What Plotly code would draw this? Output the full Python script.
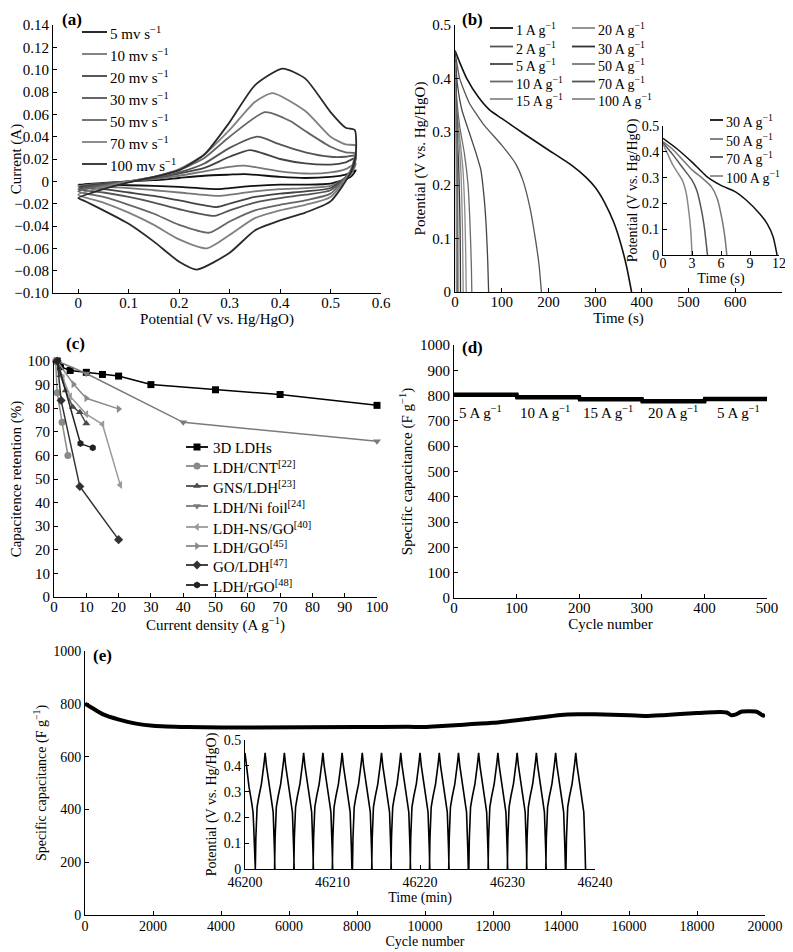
import plotly.graph_objects as go

FONT = "Liberation Serif"
# the page puts the figure 8 px in from the top-left corner, so the figure is that much smaller
OFF = 8
W, H = 793 - OFF, 952 - OFF

# ---------------- (a) cyclic voltammetry ----------------
cv_labels = ["5 mv s<sup>−1</sup>", "10 mv s<sup>−1</sup>", "20 mv s<sup>−1</sup>", "30 mv s<sup>−1</sup>",
             "50 mv s<sup>−1</sup>", "70 mv s<sup>−1</sup>", "100 mv s<sup>−1</sup>"]
cv_colors = ["#111111", "#777777", "#444444", "#555555", "#666666", "#808080", "#2a2a2a"]

cv5_v = [0, .05, .1, .15, .2, .25, .3, .33, .4, .45, .5, .53, .55, .54, .5, .45, .4, .35, .3, .28, .2, .15, .1, .05, 0]
cv5_i = [-.003, -.0015, 0, .001, .003, .005, .006, .0065, .004, .003, .004, .006, .010, .004, -.002, -.003, -.003, -.004, -.006, -.007, -.005, -.004, -.0035, -.003, -.003]
cv10_v = [0, .05, .1, .15, .2, .25, .3, .33, .4, .45, .5, .53, .55, .54, .5, .45, .4, .35, .3, .28, .2, .15, .1, .05, 0]
cv10_i = [-.004, -.002, 0, .002, .005, .009, .013, .014, .009, .007, .008, .011, .016, .006, -.004, -.006, -.007, -.009, -.012, -.013, -.010, -.008, -.006, -.005, -.004]
cv20_v = [0, .05, .1, .15, .2, .25, .3, .34, .4, .45, .5, .53, .55, .54, .5, .45, .4, .35, .3, .275, .2, .15, .1, .05, 0]
cv20_i = [-.005, -.002, 0, .003, .007, .012, .022, .028, .020, .016, .015, .017, .021, .008, -.006, -.009, -.011, -.014, -.020, -.023, -.017, -.013, -.010, -.007, -.005]
cv30_v = [0, .05, .1, .15, .2, .25, .3, .355, .4, .45, .5, .53, .55, .54, .5, .45, .4, .35, .3, .27, .2, .15, .1, .05, 0]
cv30_i = [-.007, -.003, 0, .003, .008, .016, .030, .040, .033, .026, .022, .022, .023, .009, -.008, -.012, -.015, -.019, -.026, -.031, -.025, -.019, -.014, -.010, -.007]
cv50_v = [0, .05, .1, .15, .2, .25, .3, .37, .42, .45, .5, .53, .55, .54, .5, .45, .4, .35, .3, .26, .2, .15, .1, .05, 0]
cv50_i = [-.009, -.004, 0, .004, .010, .021, .040, .062, .054, .045, .031, .026, .025, .010, -.011, -.017, -.021, -.026, -.036, -.046, -.039, -.029, -.021, -.014, -.009]
cv70_v = [0, .05, .1, .15, .2, .25, .3, .35, .385, .45, .5, .53, .55, .54, .5, .45, .4, .35, .3, .255, .2, .15, .1, .05, 0]
cv70_i = [-.012, -.005, 0, .004, .011, .024, .046, .071, .079, .063, .040, .033, .032, .010, -.014, -.021, -.026, -.033, -.048, -.060, -.052, -.039, -.028, -.019, -.012]
cv100_v = [0, .05, .1, .15, .2, .25, .3, .35, .405, .45, .5, .53, .548, .55, .54, .5, .45, .4, .35, .3, .235, .2, .15, .1, .05, .01, 0]
cv100_i = [-.015, -.007, -.001, .004, .010, .024, .053, .086, .101, .092, .062, .048, .046, .024, .008, -.018, -.028, -.035, -.044, -.064, -.079, -.072, -.054, -.038, -.026, -.017, -.015]
cv_v = [cv5_v, cv10_v, cv20_v, cv30_v, cv50_v, cv70_v, cv100_v]
cv_i = [cv5_i, cv10_i, cv20_i, cv30_i, cv50_i, cv70_i, cv100_i]

# ---------------- (b) galvanostatic discharge ----------------
gd_labels = ["1 A g<sup>−1</sup>", "2 A g<sup>−1</sup>", "5 A g<sup>−1</sup>", "10 A g<sup>−1</sup>", "15 A g<sup>−1</sup>",
             "20 A g<sup>−1</sup>", "30 A g<sup>−1</sup>", "50 A g<sup>−1</sup>", "70 A g<sup>−1</sup>", "100 A g<sup>−1</sup>"]
gd_colors = ["#111111", "#555555", "#444444", "#6a6a6a", "#8a8a8a", "#8a8a8a", "#333333", "#777777", "#555555", "#888888"]

gd1_t = [0, 10, 25, 50, 75, 100, 150, 200, 250, 280, 300, 320, 340, 355, 368, 378]
gd1_v = [0.452, 0.43, 0.40, 0.365, 0.34, 0.325, 0.295, 0.266, 0.237, 0.215, 0.196, 0.168, 0.13, 0.09, 0.045, 0]
gd2_t = [0, 10, 30, 60, 100, 130, 145, 160, 172, 180, 185]
gd2_v = [0.45, 0.40, 0.355, 0.315, 0.275, 0.24, 0.21, 0.16, 0.10, 0.05, 0]
gd5_t = [0, 5, 15, 30, 45, 55, 62, 67, 70, 72]
gd5_v = [0.45, 0.39, 0.34, 0.30, 0.26, 0.23, 0.18, 0.12, 0.06, 0]
gd10_t = [0, 3, 10, 20, 28, 32, 35, 36]
gd10_v = [0.44, 0.37, 0.31, 0.26, 0.20, 0.13, 0.05, 0]
gd15_t = [0, 3, 10, 17, 21, 23, 24]
gd15_v = [0.44, 0.35, 0.29, 0.23, 0.15, 0.07, 0]
gd20_t = [0, 2, 8, 13, 16, 17.5]
gd20_v = [0.44, 0.36, 0.29, 0.22, 0.12, 0]
gd30_t = [0, 1.5, 3, 4.5, 6, 7.5, 8.6, 10, 10.8, 11.4, 11.8]
gd30_v = [0.452, 0.41, 0.36, 0.305, 0.27, 0.245, 0.213, 0.16, 0.12, 0.07, 0]
gd50_t = [0, 1, 2, 3, 4, 5, 5.6, 6.1, 6.4, 6.6]
gd50_v = [0.44, 0.41, 0.37, 0.33, 0.30, 0.265, 0.22, 0.14, 0.07, 0]
gd70_t = [0, 1, 2, 3, 3.5, 4, 4.3, 4.6]
gd70_v = [0.435, 0.39, 0.34, 0.29, 0.25, 0.17, 0.10, 0]
gd100_t = [0, 0.5, 1, 1.5, 2, 2.4, 2.7, 2.9, 3.0]
gd100_v = [0.43, 0.39, 0.35, 0.32, 0.29, 0.24, 0.16, 0.08, 0]
gd_t = [gd1_t, gd2_t, gd5_t, gd10_t, gd15_t, gd20_t, gd30_t, gd50_t, gd70_t, gd100_t]
gd_v = [gd1_v, gd2_v, gd5_v, gd10_v, gd15_v, gd20_v, gd30_v, gd50_v, gd70_v, gd100_v]
inset_colors = ["#111111", "#777777", "#555555", "#888888"]

# ---------------- (c) rate capability comparison ----------------
rc_names = ["3D LDHs", "LDH/CNT<sup>[22]</sup>", "GNS/LDH<sup>[23]</sup>", "LDH/Ni foil<sup>[24]</sup>",
            "LDH-NS/GO<sup>[40]</sup>", "LDH/GO<sup>[45]</sup>", "GO/LDH<sup>[47]</sup>", "LDH/rGO<sup>[48]</sup>"]
rc_symbols = ["square", "circle", "triangle-up", "triangle-down", "triangle-left", "triangle-right", "diamond", "hexagon"]
rc_colors = ["#000000", "#8a8a8a", "#4a4a4a", "#7a7a7a", "#9a9a9a", "#8a8a8a", "#333333", "#222222"]
rc_x = [
    [1, 2, 5, 10, 15, 20, 30, 50, 70, 100],
    [0.5, 1, 2.5, 4.3],
    [1, 2, 3.6, 5.8, 8, 10],
    [1, 10, 40, 100],
    [1, 2.7, 5, 10, 15, 20.5],
    [1, 6, 10, 20],
    [1, 2.2, 8, 20],
    [1, 8.2, 12],
]
rc_y = [
    [100, 97.6, 96, 95.2, 94.3, 93.6, 90, 87.8, 85.8, 81.2],
    [100, 86.5, 74, 60],
    [100, 94, 87.5, 80.5, 78.3, 73.5],
    [100, 94.7, 74, 66],
    [100, 93, 85, 77.5, 73.2, 47.5],
    [100, 90.2, 84.2, 79.7],
    [100, 83.3, 46.8, 24.3],
    [100, 65, 63.2],
]

# ---------------- (d) rate cycling ----------------
d_cycle = [0, 100, 101, 200, 201, 300, 301, 400, 401, 500]
d_cap = [803, 803, 793, 793, 786, 786, 778, 778, 787, 787]
d_label_x = [42, 145, 246, 350, 454]
d_labels = ["5 A g<sup>−1</sup>", "10 A g<sup>−1</sup>", "15 A g<sup>−1</sup>", "20 A g<sup>−1</sup>", "5 A g<sup>−1</sup>"]

# ---------------- (e) long cycling ----------------
e_cycle = [0, 200, 500, 1000, 1500, 2000, 3000, 5000, 8000, 9500, 10000, 10500, 11000, 12000, 12500, 13000,
           14000, 14500, 15000, 16000, 16500, 17000, 18000, 18700, 18900, 19000, 19150, 19300, 19750, 19850, 19950, 20000]
e_cap = [800, 785, 762, 740, 725, 717, 712, 710, 712, 713, 712, 716, 720, 728, 735, 742,
         758, 760, 760, 757, 754, 757, 765, 769, 766, 757, 760, 770, 770, 763, 755, 760]

# inset: one charge/discharge profile and the times of the voltage peaks
peak_times = [46200.0, 46202.3, 46204.5, 46206.7, 46208.9, 46211.1, 46213.4, 46215.6, 46217.8,
              46220.0, 46222.2, 46224.4, 46226.7, 46228.9, 46231.1, 46233.3, 46235.5, 46237.8]
charge_dt = [-1.12, -1.06, -1.0, -0.92, -0.72, -0.42, -0.12, 0]
charge_v = [0, 0.12, 0.20, 0.24, 0.28, 0.33, 0.41, 0.45]
discharge_dt = [0.15, 0.45, 0.75, 0.92, 1.0, 1.06, 1.12]
discharge_v = [0.40, 0.32, 0.26, 0.22, 0.16, 0.08, 0]

gcd_t, gcd_v = [], []
for k, tp in enumerate(peak_times):
    if k > 0:
        gcd_t += [tp + d for d in charge_dt]
        gcd_v += charge_v
    else:
        gcd_t.append(tp)
        gcd_v.append(0.45)
    gcd_t += [tp + d for d in discharge_dt]
    gcd_v += discharge_v


def px(x):
    # screen pixel -> paper fraction
    return (x - OFF) / W


def py(y):
    return 1 - (y - OFF) / H


def axis(x0, x1, rng, tickvals, ticktext, title, anchor, size=15, standoff=3, tls=0):
    return dict(
        domain=[x0, x1], range=rng, anchor=anchor, automargin=False,
        tickvals=tickvals, ticktext=ticktext, ticklabelstandoff=tls,
        showline=True, linecolor="black", linewidth=1, mirror=False,
        ticks="inside", ticklen=4, tickcolor="black",
        showgrid=False, zeroline=False,
        tickfont=dict(family=FONT, size=size, color="black"),
        title=dict(text=title, font=dict(family=FONT, size=size, color="black"), standoff=standoff),
    )


def fmt(v, nd):
    if abs(v) < 1e-9:
        return "0"
    s = f"{abs(v):.{nd}f}"
    return ("−" + s) if v < 0 else s


fig = go.Figure()

# (a)
for k in range(len(cv_labels)):
    fig.add_trace(go.Scatter(
        x=cv_v[k], y=cv_i[k], mode="lines", showlegend=False,
        line=dict(color=cv_colors[k], width=1.8, shape="spline", smoothing=0.6),
        xaxis="x", yaxis="y",
    ))

# (b) main
for k in range(len(gd_labels)):
    fig.add_trace(go.Scatter(
        x=gd_t[k], y=gd_v[k], mode="lines", showlegend=False,
        line=dict(color=gd_colors[k], width=1.6 if k == 0 else 1.3, shape="spline", smoothing=0.5),
        xaxis="x2", yaxis="y2",
    ))

# (b) inset
for j, k in enumerate(range(6, 10)):
    fig.add_trace(go.Scatter(
        x=gd_t[k], y=gd_v[k], mode="lines", showlegend=False,
        line=dict(color=inset_colors[j], width=1.5, shape="spline", smoothing=0.5),
        xaxis="x3", yaxis="y3",
    ))

# (c)
for k in range(len(rc_names)):
    fig.add_trace(go.Scatter(
        x=rc_x[k], y=rc_y[k], mode="lines+markers", showlegend=False,
        line=dict(color=rc_colors[k], width=1.5),
        marker=dict(symbol=rc_symbols[k], size=7, color=rc_colors[k]),
        cliponaxis=False, xaxis="x4", yaxis="y4",
    ))

# (d)
fig.add_trace(go.Scatter(x=d_cycle, y=d_cap, mode="lines", line=dict(color="black", width=4.5),
                         showlegend=False, xaxis="x5", yaxis="y5"))
for lx, lt in zip(d_label_x, d_labels):
    fig.add_annotation(x=lx, y=735, xref="x5", yref="y5", text=lt, showarrow=False,
                       font=dict(family=FONT, size=15, color="black"))

# (e)
fig.add_trace(go.Scatter(x=e_cycle, y=e_cap, mode="lines",
                         line=dict(color="black", width=4, shape="spline", smoothing=0.6),
                         showlegend=False, xaxis="x6", yaxis="y6"))
fig.add_trace(go.Scatter(x=gcd_t, y=gcd_v, mode="lines", line=dict(color="black", width=1.6),
                         showlegend=False, xaxis="x7", yaxis="y7"))


# hand-placed legends on a pixel overlay (x8/y8)
def legend_block(labels, colors, x0, x1, tx, rows, size, symbols=None):
    for k, lab in enumerate(labels):
        y = rows[k]
        fig.add_trace(go.Scatter(x=[x0, x1], y=[y, y], mode="lines", showlegend=False, hoverinfo="skip",
                                 line=dict(color=colors[k], width=1.8), xaxis="x8", yaxis="y8"))
        if symbols:
            fig.add_trace(go.Scatter(x=[(x0 + x1) / 2], y=[y], mode="markers", showlegend=False, hoverinfo="skip",
                                     marker=dict(symbol=symbols[k], size=7, color=colors[k]),
                                     xaxis="x8", yaxis="y8"))
        fig.add_annotation(x=tx, y=y + 1, xref="x8", yref="y8", text=lab, showarrow=False,
                           xanchor="left", yanchor="middle", font=dict(family=FONT, size=size, color="black"))


legend_block(cv_labels, cv_colors, 82, 107, 108, [32, 54, 76, 98, 120, 142, 164], 15)
legend_block(gd_labels[:5], gd_colors[:5], 490, 513, 514, [28, 46.5, 64, 81.5, 99], 14)
legend_block(gd_labels[5:], gd_colors[5:], 572, 595, 596, [28, 46.5, 64, 81.5, 99], 14)
legend_block(gd_labels[6:], inset_colors, 710, 723, 724, [120, 139, 157, 176], 14)
legend_block(rc_names, rc_colors, 186, 208, 211, [447, 466, 486, 506, 527, 546, 565, 585], 15, rc_symbols)

a_y = [round(-0.10 + 0.02 * i, 2) for i in range(13)]
a_x = [round(0.1 * i, 1) for i in range(7)]
b_y = [round(0.1 * i, 1) for i in range(6)]

fig.update_layout(
    width=W, height=H, margin=dict(l=0, r=0, t=0, b=0, autoexpand=False),
    paper_bgcolor="white", plot_bgcolor="rgba(0,0,0,0)",
    font=dict(family=FONT, color="black"),
    xaxis=axis(px(53), px(381), [-0.05, 0.6], a_x, [fmt(v, 1) for v in a_x], "Potential (V vs. Hg/HgO)", "y", standoff=0, tls=-4),
    yaxis=axis(py(293), py(25), [-0.10, 0.14], a_y, [fmt(v, 2) for v in a_y], "Current (A)", "x", standoff=0),
    xaxis2=axis(px(455), px(782), [0, 700], list(range(0, 701, 100)), [str(v) for v in range(0, 701, 100)], "Time (s)", "y2", standoff=0, tls=-4),
    yaxis2=axis(py(292), py(25), [0, 0.5], b_y, [fmt(v, 1) for v in b_y], "Potential (V vs. Hg/HgO)", "x2"),
    xaxis3=axis(px(663), px(779), [0, 12], [0, 3, 6, 9, 12], ["0", "3", "6", "9", "12"], "Time (s)", "y3", size=14, standoff=0, tls=-5),
    yaxis3=axis(py(255), py(126), [0, 0.5], b_y, [fmt(v, 1) for v in b_y], "Potential (V vs. Hg/HgO)", "x3", size=14, standoff=0),
    xaxis4=axis(px(54), px(377), [0, 100], list(range(0, 101, 10)), [str(v) for v in range(0, 101, 10)], "Current density (A g<sup>−1</sup>)", "y4", standoff=0, tls=-4),
    yaxis4=axis(py(597), py(361), [0, 100], list(range(0, 101, 10)), [str(v) for v in range(0, 101, 10)], "Capacitence retention (%)", "x4"),
    xaxis5=axis(px(454), px(767), [0, 500], list(range(0, 501, 100)), [str(v) for v in range(0, 501, 100)], "Cycle number", "y5", standoff=0, tls=-4),
    yaxis5=axis(py(598), py(345), [0, 1000], list(range(0, 1001, 100)), [str(v) for v in range(0, 1001, 100)], "Specific capacitance (F g<sup>−1</sup>)", "x5"),
    xaxis6=axis(px(85), px(765), [0, 20000], list(range(0, 20001, 2000)), [str(v) for v in range(0, 20001, 2000)], "Cycle number", "y6", size=14, standoff=1, tls=-2),
    yaxis6=axis(py(915), py(651), [0, 1000], list(range(0, 1001, 200)), [str(v) for v in range(0, 1001, 200)], "Specific capacitance (F g<sup>−1</sup>)", "x6", size=14),
    xaxis7=axis(px(245), px(595), [46200, 46240], [46200, 46210, 46220, 46230, 46240], ["46200", "46210", "46220", "46230", "46240"], "Time (min)", "y7", size=14, standoff=1),
    yaxis7=axis(py(869), py(740), [0, 0.5], b_y, [fmt(v, 1) for v in b_y], "Potential (V vs. Hg/HgO)", "x7", size=14),
    xaxis8=dict(domain=[0, 1], range=[OFF, 793], visible=False, fixedrange=True, anchor="y8"),
    yaxis8=dict(domain=[0, 1], range=[952, OFF], visible=False, fixedrange=True, anchor="x8"),
)

# panel letters; (a) and (b) sit at the very top, so anchor them by their top edge
for lab, x, y, ya in [("(a)", 72, 8, "top"), ("(b)", 472, 8, "top"), ("(c)", 75, 343, "middle"),
                      ("(d)", 472, 348, "middle"), ("(e)", 102, 655, "middle")]:
    fig.add_annotation(x=px(x), y=py(y), xref="paper", yref="paper", text=f"<b>{lab}</b>", showarrow=False,
                       xanchor="center", yanchor=ya,
                       font=dict(family=FONT, size=17, color="black"))

fig.write_html("out.html")
